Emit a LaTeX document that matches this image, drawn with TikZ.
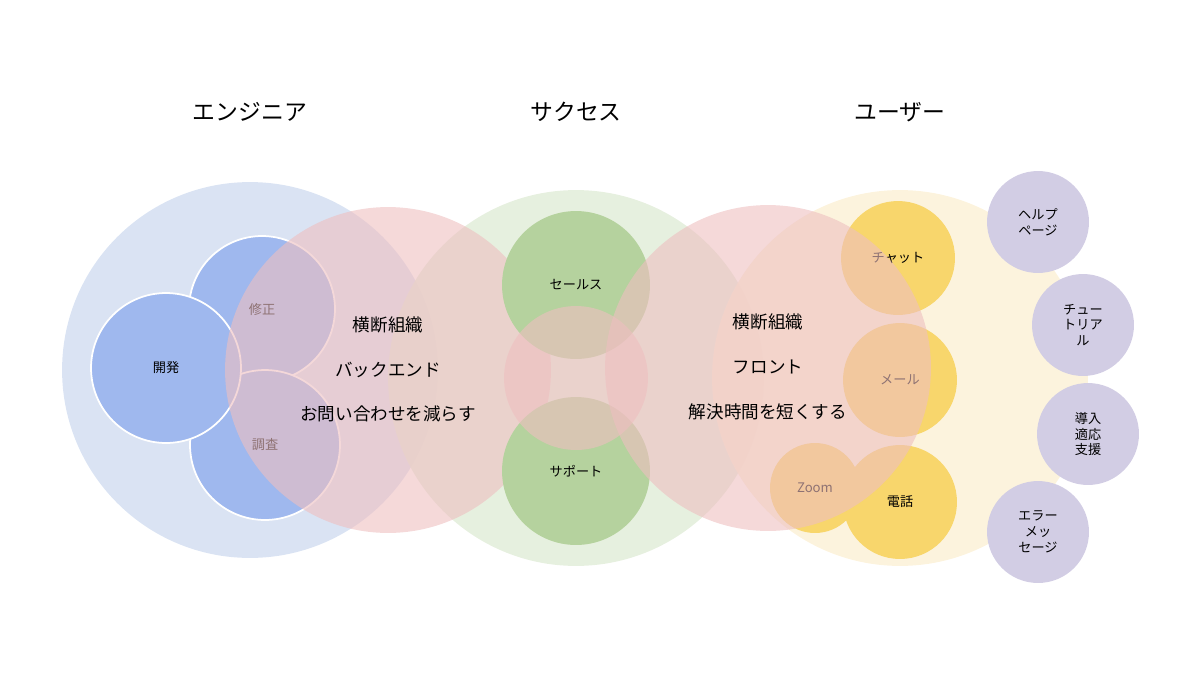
\documentclass[tikz,border=0pt]{standalone}
\usepackage{fontspec}
\setmainfont{Noto Sans CJK JP}
\begin{document}
\begin{tikzpicture}[x=0.02cm,y=-0.02cm]
\definecolor{bigblue}{HTML}{DAE3F3}
\definecolor{smblue}{HTML}{9FB8EE}
\definecolor{pinkc}{HTML}{EEBFC0}
\definecolor{biggreen}{HTML}{E2EDD9}
\definecolor{smgreen}{HTML}{B5D29E}
\definecolor{bigyel}{HTML}{FCF2D9}
\definecolor{smyel}{HTML}{F8D66C}
\definecolor{purp}{HTML}{D2CDE4}
\tikzset{
 circ/.style={circle,inner sep=0pt,minimum size=#1*0.04cm},
 title/.style={font=\fontsize{13}{15}\selectfont},
 lab/.style={font=\fontsize{7.5}{9}\selectfont},
 mid/.style={font=\fontsize{10}{12}\selectfont},
 pk/.style={fill=pinkc,fill opacity=0.6,text opacity=1},
}
\useasboundingbox (0,0) rectangle (1200,673);
\node[title] (t1) at (250,112) {エンジニア};
\node[title] (t2) at (576,112) {サクセス};
\node[title] (t3) at (900,112) {ユーザー};
% engineer
\node[circ=188,fill=bigblue] (eb) at (250,370) {};
\node[circ=73,fill=smblue,draw=white,line width=1pt,lab] (e1) at (262,309) {修正};
\node[circ=75,fill=smblue,draw=white,line width=1pt,lab] (e2) at (265,445) {調査};
\node[circ=75,fill=smblue,draw=white,line width=1pt,lab] (e3) at (166,368) {開発};
% success
\node[circ=188,fill=biggreen,fill opacity=0.85] (sb) at (576,378) {};
\node[circ=163,pk] (pl) at (388,370) {};
\node[circ=74,fill=smgreen,lab] (s1) at (576,285) {セールス};
\node[circ=74,fill=smgreen,lab] (s2) at (576,471) {サポート};
\node[circ=72,pk] (pm) at (576,378) {};
% user
\node[circ=188,fill=bigyel,fill opacity=0.9] (yb) at (900,378) {};
\node[circ=57,fill=smyel,lab] (y1) at (898,258) {チャット};
\node[circ=57,fill=smyel,lab] (y2) at (900,380) {メール};
\node[circ=57,fill=smyel,lab] (y3) at (900,502) {電話};
\node[circ=45,fill=smyel,lab] (y4) at (815,488) {Zoom};
\node[circ=163,pk] (pr) at (768,368) {};
\node[circ=51,fill=purp,lab,align=center] (p1) at (1038,222) {ヘルプ\\ページ};
\node[circ=51,fill=purp,lab,align=center] (p2) at (1083,325) {チュー\\トリア\\ル};
\node[circ=51,fill=purp,lab,align=center] (p3) at (1088,434) {導入\\適応\\支援};
\node[circ=51,fill=purp,lab,align=center] (p4) at (1038,532) {エラー\\メッ\\セージ};
% texts
\node[mid] (a1) at (388,325) {横断組織};
\node[mid] (a2) at (388,370) {バックエンド};
\node[mid] (a3) at (388,414) {お問い合わせを減らす};
\node[mid] (b1) at (768,322) {横断組織};
\node[mid] (b2) at (768,367) {フロント};
\node[mid] (b3) at (768,412) {解決時間を短くする};
\end{tikzpicture}
\end{document}
